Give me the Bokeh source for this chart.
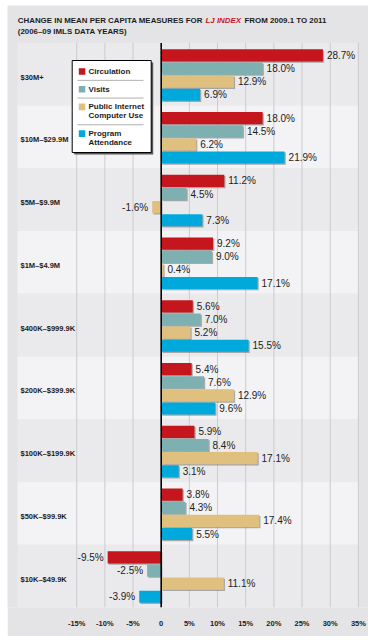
from bokeh.plotting import figure
from bokeh.models import Range1d, FixedTicker, ColumnDataSource, Label
from bokeh.core.properties import value
from bokeh.embed import file_html
from bokeh.resources import INLINE

# ---------------- data ----------------
categories = ["$30M+", "$10M–$29.9M", "$5M–$9.9M", "$1M–$4.9M", "$400K–$999.9K",
              "$200K–$399.9K", "$100K–$199.9K", "$50K–$99.9K", "$10K–$49.9K"]
series_names = ["Circulation", "Visits", "Public Internet\nComputer Use", "Program\nAttendance"]
circulation = [28.7, 18.0, 11.2, 9.2, 5.6, 5.4, 5.9, 3.8, -9.5]
visits = [18.0, 14.5, 4.5, 9.0, 7.0, 7.6, 8.4, 4.3, -2.5]
internet_use = [12.9, 6.2, -1.6, 0.4, 5.2, 12.9, 17.1, 17.4, 11.1]
program_attendance = [6.9, 21.9, 7.3, 17.1, 15.5, 9.6, 3.1, 5.5, -3.9]
tick_values = [-15, -10, -5, 0, 5, 10, 15, 20, 25, 30, 35]
tick_labels = ["-15%", "-10%", "-5%", "0", "5%", "10%", "15%", "20%", "25%", "30%", "35%"]
title_parts = ["CHANGE IN MEAN PER CAPITA MEASURES FOR ", "LJ INDEX", " FROM 2009.1 TO 2011"]
title_line2 = "(2006–09 IMLS DATA YEARS)"

series_values = [circulation, visits, internet_use, program_attendance]
colors = ["#c4161c", "#7eb0b1", "#dfc07f", "#00a9dc"]

# ---------------- layout (pixels) ----------------
W, H = 361, 631
ML, MT = 7, 5                # page offset of the figure
PX_PER_PCT = 5.634
ZERO_PX = 153.7              # figure px of the 0 line
GROUP_PX = 62.75
BAND_TOP_PX = 37.25
FRAME_H = 602

x_start = -ZERO_PX / PX_PER_PCT
x_end = x_start + W / PX_PER_PCT
y_top = -BAND_TOP_PX / GROUP_PX
y_bottom = y_top + FRAME_H / GROUP_PX


def X(page_x):
    return x_start + (page_x - ML) / PX_PER_PCT


def Y(page_y):
    return y_top + (page_y - MT) / GROUP_PX


def DX(px):
    return px / PX_PER_PCT


def DY(px):
    return px / GROUP_PX


PANEL = "#e4e4e6"
BAND_COLORS = ["#eaeaec", "#f3f3f5"]
FONT = "Liberation Sans"

p = figure(width=W, height=H, output_backend="svg", toolbar_location=None,
           x_range=Range1d(x_start, x_end), y_range=Range1d(y_bottom, y_top),
           y_axis_location=None, min_border_left=0, min_border_right=0,
           min_border_top=0, min_border_bottom=H - FRAME_H,
           background_fill_color=PANEL, border_fill_color=PANEL,
           outline_line_color=None, margin=(MT, 375 - W - ML, 644 - H - MT, ML))
p.xgrid.visible = False
p.ygrid.visible = False

n = len(categories)
idx = list(range(n))

# bands
p.quad(left=X(17), right=X(358), top=idx, bottom=[i + 1 for i in idx],
       fill_color=[BAND_COLORS[i % 2] for i in idx], line_color=None)

# gridlines
grid_x = [t for t in tick_values if t != 0]
p.segment(x0=grid_x, x1=grid_x, y0=0, y1=n, line_color="#cbcbcf", line_width=1)

# bars
PAD = DY(6.6)
PITCH = DY(13.1)
HB = DY(12.2)
for k, vals in enumerate(series_values):
    yc = [i + PAD + k * PITCH + HB / 2 for i in idx]
    src = ColumnDataSource(dict(
        y=yc, v=vals,
        ys=[y + DY(1.2) for y in yc],
        l_s=[DX(1.2)] * n, r_s=[v + DX(1.2) for v in vals],
    ))
    p.hbar(y="ys", left="l_s", right="r_s", height=HB, source=src,
           fill_color="#6f6f6f", fill_alpha=0.55, line_color=None)
    p.hbar(y="y", left=0, right="v", height=HB, source=src,
           fill_color=colors[k], line_color=None)
    pos = ColumnDataSource(dict(
        y=[y for y, v in zip(yc, vals) if v >= 0],
        v=[v for v in vals if v >= 0],
        lab=[f"{v:.1f}%" for v in vals if v >= 0]))
    neg = ColumnDataSource(dict(
        y=[y for y, v in zip(yc, vals) if v < 0],
        v=[v for v in vals if v < 0],
        lab=[f"{v:.1f}%" for v in vals if v < 0]))
    p.text(x="v", y="y", text="lab", source=pos, x_offset=4, text_align="left",
           text_baseline="middle", text_font=value(FONT), text_font_size="10px",
           text_color="#1c1c1c")
    p.text(x="v", y="y", text="lab", source=neg, x_offset=-4, text_align="right",
           text_baseline="middle", text_font=value(FONT), text_font_size="10px",
           text_color="#1c1c1c")

# zero line
p.segment(x0=[0], x1=[0], y0=[Y(42.5)], y1=[n], line_color="black", line_width=1.6)

# category labels
p.text(x=[X(20)] * n, y=[i + 0.5 + DY(3) for i in idx], text=categories,
       text_align="left", text_baseline="middle", text_font=value(FONT),
       text_font_style="bold", text_font_size="7.5px", text_color="#1c1c1c")

# x axis
ax = p.xaxis[0]
ax.ticker = FixedTicker(ticks=tick_values)
ax.major_label_overrides = {t: lab for t, lab in zip(tick_values, tick_labels)}
ax.axis_line_color = None
ax.major_tick_line_color = None
ax.minor_tick_line_color = None
ax.major_label_standoff = 5
ax.major_label_text_font = FONT
ax.major_label_text_font_style = "bold"
ax.major_label_text_font_size = "7.5px"
ax.major_label_text_color = "#1c1c1c"

# legend (manual, boxed with separators)
p.quad(left=X(73.7), right=X(152.7), top=Y(62), bottom=Y(154),
       fill_color="#555555", line_color=None)
p.quad(left=X(71.7), right=X(150.7), top=Y(60), bottom=Y(152),
       fill_color="white", line_color="black", line_width=1)
line_y = 71.0
leg_x, leg_y, leg_t, sq_y, sq_c, sep_y = [], [], [], [], [], []
for k, name in enumerate(series_names):
    lines = name.split("\n")
    sq_y.append(Y(line_y))
    sq_c.append(colors[k])
    for j, ln in enumerate(lines):
        leg_x.append(X(88))
        leg_y.append(Y(line_y + 9 * j))
        leg_t.append(ln)
    last = line_y + 9 * (len(lines) - 1)
    nxt = last + 17.7
    if k < len(series_names) - 1:
        sep_y.append(Y((last + nxt) / 2))
    line_y = nxt
p.segment(x0=X(77), x1=X(143), y0=sep_y, y1=sep_y, line_color="#b0b0b0", line_width=1)
p.quad(left=X(78.3), right=X(84.8), top=[y - DY(3.3) for y in sq_y],
       bottom=[y + DY(3.3) for y in sq_y], fill_color=sq_c, line_color=None)
p.text(x=leg_x, y=leg_y, text=leg_t, text_align="left", text_baseline="middle",
       text_font=value(FONT), text_font_style="bold", text_font_size="8px",
       text_color="#1c1c1c")

# title
t_x = [17.3, 205.0, 244.0]
t_col = ["#1c1c1c", "#c4161c", "#1c1c1c"]
t_sty = ["bold", "bold italic", "bold"]
for part, tx, c, s in zip(title_parts, t_x, t_col, t_sty):
    p.add_layout(Label(x=X(tx), y=Y(20), text=part.strip(), text_align="left",
                       text_baseline="middle", text_font=FONT, text_font_style=s,
                       text_font_size="7.9px", text_color=c))
p.add_layout(Label(x=X(17.3), y=Y(31), text=title_line2, text_align="left",
                   text_baseline="middle", text_font=FONT, text_font_style="bold",
                   text_font_size="7.9px", text_color="#1c1c1c"))

open("out.html", "w").write(file_html(p, INLINE))
